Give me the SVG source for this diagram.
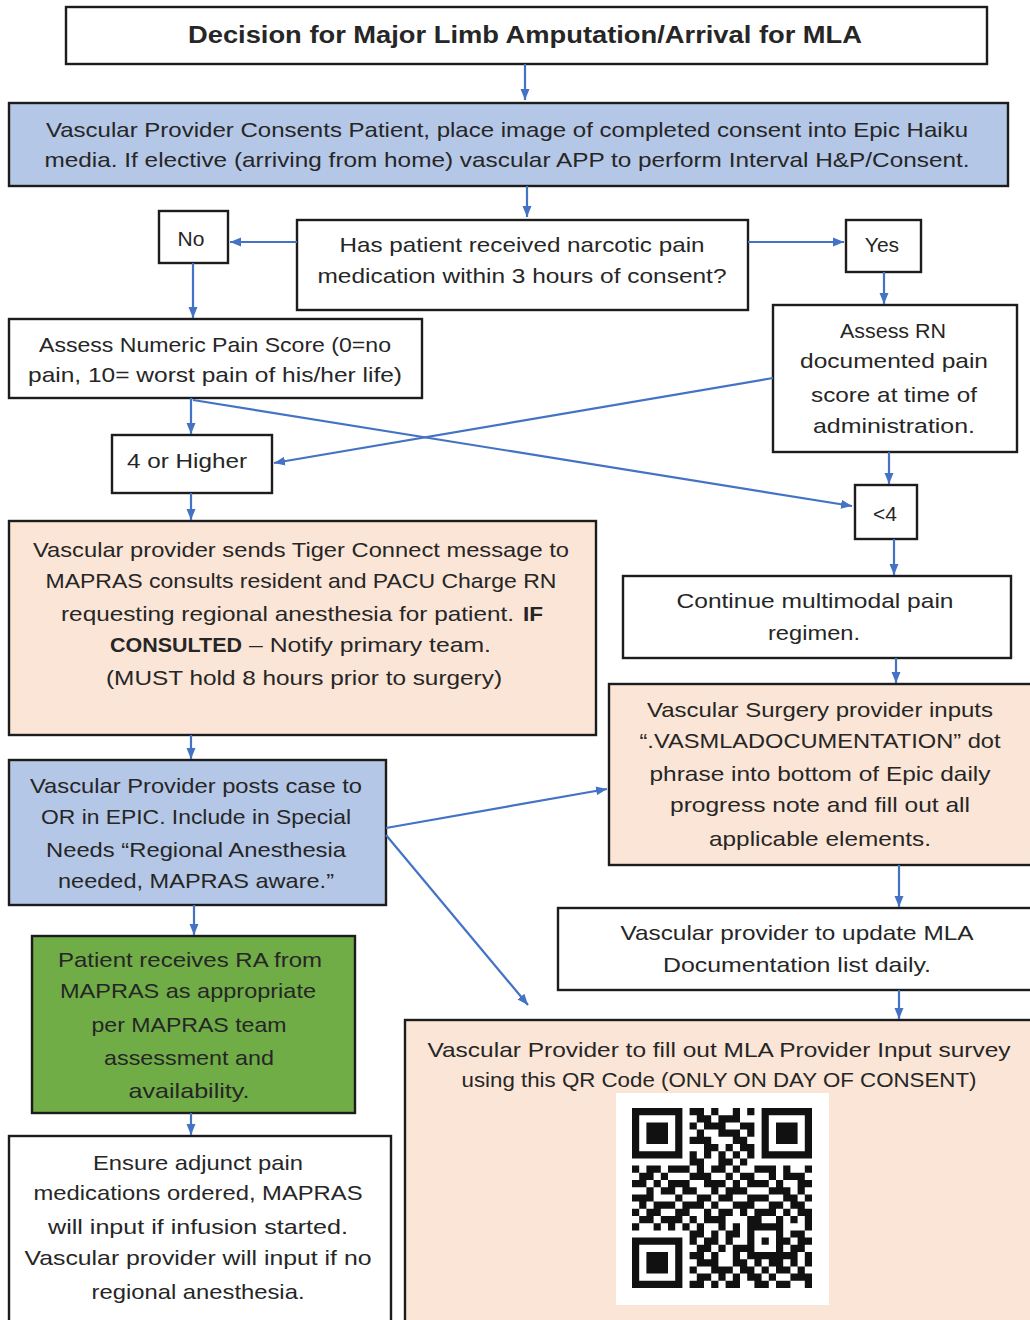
<svg xmlns="http://www.w3.org/2000/svg" width="1030" height="1320" viewBox="0 0 1030 1320">
<defs>
<marker id="ah" markerUnits="userSpaceOnUse" markerWidth="12" markerHeight="12" viewBox="0 0 12 12" refX="11" refY="6" orient="auto">
<path d="M0 1.5L11 6L0 10.5z" fill="#4472c4"/>
</marker>
<style>
.box{stroke:#1c1c1c;stroke-width:2.4}
.w{fill:#ffffff}
.b{fill:#b4c7e7}
.p{fill:#fbe5d6}
.g{fill:#70ad47}
.t{font-family:"Liberation Sans",Arial,sans-serif;font-size:21px;fill:#262626;text-anchor:middle}
.s{text-anchor:start}
.bd{font-weight:bold}
.c path{fill:none;stroke:#4472c4;stroke-width:2.2;marker-end:url(#ah)}
</style>
</defs>
<rect width="1030" height="1320" fill="#ffffff"/>

<g id="n-title">
<rect class="box w" x="66" y="7" width="921" height="57"/>
<text class="t bd" x="525" y="43" style="font-size:23px" textLength="674" lengthAdjust="spacingAndGlyphs">Decision for Major Limb Amputation/Arrival for MLA</text>
</g>

<g id="n-consent">
<rect class="box b" x="9" y="103" width="999" height="83"/>
<text class="t" x="507" y="137" textLength="922" lengthAdjust="spacingAndGlyphs">Vascular Provider Consents Patient, place image of completed consent into Epic Haiku</text>
<text class="t" x="507" y="167" textLength="925" lengthAdjust="spacingAndGlyphs">media. If elective (arriving from home) vascular APP to perform Interval H&amp;P/Consent.</text>
</g>

<g id="n-question">
<rect class="box w" x="297" y="220" width="451" height="90"/>
<text class="t" x="522" y="252" textLength="365" lengthAdjust="spacingAndGlyphs">Has patient received narcotic pain</text>
<text class="t" x="522" y="283" textLength="409" lengthAdjust="spacingAndGlyphs">medication within 3 hours of consent?</text>
</g>

<g id="n-no">
<rect class="box w" x="159" y="211" width="69" height="52"/>
<text class="t" x="191" y="246">No</text>
</g>

<g id="n-yes">
<rect class="box w" x="846" y="220" width="75" height="52"/>
<text class="t" x="882" y="252">Yes</text>
</g>

<g id="n-numeric">
<rect class="box w" x="9" y="319" width="413" height="79"/>
<text class="t" x="215" y="352" textLength="352" lengthAdjust="spacingAndGlyphs">Assess Numeric Pain Score (0=no</text>
<text class="t" x="215" y="382" textLength="374" lengthAdjust="spacingAndGlyphs">pain, 10= worst pain of his/her life)</text>
</g>

<g id="n-rn">
<rect class="box w" x="773" y="305" width="244" height="147"/>
<text class="t" x="893" y="338" textLength="106" lengthAdjust="spacingAndGlyphs">Assess RN</text>
<text class="t" x="894" y="368" textLength="188" lengthAdjust="spacingAndGlyphs">documented pain</text>
<text class="t" x="894" y="402" textLength="166" lengthAdjust="spacingAndGlyphs">score at time of</text>
<text class="t" x="894" y="433" textLength="162" lengthAdjust="spacingAndGlyphs">administration.</text>
</g>

<g id="n-high">
<rect class="box w" x="112" y="435" width="160" height="58"/>
<text class="t" x="187" y="468" textLength="120" lengthAdjust="spacingAndGlyphs">4 or Higher</text>
</g>

<g id="n-low">
<rect class="box w" x="855" y="485" width="62" height="54"/>
<text class="t" x="885" y="521">&lt;4</text>
</g>

<g id="n-tiger">
<rect class="box p" x="9" y="521" width="587" height="214"/>
<text class="t" x="301" y="557" textLength="536" lengthAdjust="spacingAndGlyphs">Vascular provider sends Tiger Connect message to</text>
<text class="t" x="301" y="588" textLength="511" lengthAdjust="spacingAndGlyphs">MAPRAS consults resident and PACU Charge RN</text>
<text class="t s" x="61" y="621" textLength="453" lengthAdjust="spacingAndGlyphs">requesting regional anesthesia for patient.</text>
<text class="t s bd" x="523" y="621" textLength="20" lengthAdjust="spacingAndGlyphs">IF</text>
<text class="t s bd" x="110" y="652" textLength="132" lengthAdjust="spacingAndGlyphs">CONSULTED</text>
<text class="t s" x="249" y="652" textLength="242" lengthAdjust="spacingAndGlyphs">– Notify primary team.</text>
<text class="t" x="304" y="685" textLength="396" lengthAdjust="spacingAndGlyphs">(MUST hold 8 hours prior to surgery)</text>
</g>

<g id="n-continue">
<rect class="box w" x="623" y="576" width="388" height="82"/>
<text class="t" x="815" y="608" textLength="277" lengthAdjust="spacingAndGlyphs">Continue multimodal pain</text>
<text class="t" x="814" y="640" textLength="92" lengthAdjust="spacingAndGlyphs">regimen.</text>
</g>

<g id="n-dotphrase">
<rect class="box p" x="609" y="684" width="440" height="181"/>
<text class="t" x="820" y="717" textLength="346" lengthAdjust="spacingAndGlyphs">Vascular Surgery provider inputs</text>
<text class="t" x="820" y="748" textLength="361" lengthAdjust="spacingAndGlyphs">“.VASMLADOCUMENTATION” dot</text>
<text class="t" x="820" y="781" textLength="341" lengthAdjust="spacingAndGlyphs">phrase into bottom of Epic daily</text>
<text class="t" x="820" y="812" textLength="300" lengthAdjust="spacingAndGlyphs">progress note and fill out all</text>
<text class="t" x="820" y="846" textLength="222" lengthAdjust="spacingAndGlyphs">applicable elements.</text>
</g>

<g id="n-posts">
<rect class="box b" x="9" y="760" width="377" height="145"/>
<text class="t" x="196" y="793" textLength="332" lengthAdjust="spacingAndGlyphs">Vascular Provider posts case to</text>
<text class="t" x="196" y="824" textLength="310" lengthAdjust="spacingAndGlyphs">OR in EPIC. Include in Special</text>
<text class="t" x="196" y="857" textLength="300" lengthAdjust="spacingAndGlyphs">Needs “Regional Anesthesia</text>
<text class="t" x="196" y="888" textLength="276" lengthAdjust="spacingAndGlyphs">needed, MAPRAS aware.”</text>
</g>

<g id="n-update">
<rect class="box w" x="558" y="908" width="480" height="82"/>
<text class="t" x="797" y="940" textLength="353" lengthAdjust="spacingAndGlyphs">Vascular provider to update MLA</text>
<text class="t" x="797" y="972" textLength="268" lengthAdjust="spacingAndGlyphs">Documentation list daily.</text>
</g>

<g id="n-ra">
<rect class="box g" x="32" y="936" width="323" height="177"/>
<text class="t" x="190" y="967" textLength="264" lengthAdjust="spacingAndGlyphs">Patient receives RA from</text>
<text class="t" x="188" y="998" textLength="256" lengthAdjust="spacingAndGlyphs">MAPRAS as appropriate</text>
<text class="t" x="189" y="1032" textLength="195" lengthAdjust="spacingAndGlyphs">per MAPRAS team</text>
<text class="t" x="189" y="1065" textLength="170" lengthAdjust="spacingAndGlyphs">assessment and</text>
<text class="t" x="189" y="1098" textLength="121" lengthAdjust="spacingAndGlyphs">availability.</text>
</g>

<g id="n-ensure">
<rect class="box w" x="9" y="1136" width="382" height="192"/>
<text class="t" x="198" y="1170" textLength="210" lengthAdjust="spacingAndGlyphs">Ensure adjunct pain</text>
<text class="t" x="198" y="1200" textLength="329" lengthAdjust="spacingAndGlyphs">medications ordered, MAPRAS</text>
<text class="t" x="198" y="1234" textLength="300" lengthAdjust="spacingAndGlyphs">will input if infusion started.</text>
<text class="t" x="198" y="1265" textLength="347" lengthAdjust="spacingAndGlyphs">Vascular provider will input if no</text>
<text class="t" x="198" y="1299" textLength="213" lengthAdjust="spacingAndGlyphs">regional anesthesia.</text>
</g>

<g id="n-survey">
<rect class="box p" x="405" y="1020" width="640" height="320"/>
<text class="t" x="719" y="1057" textLength="583" lengthAdjust="spacingAndGlyphs">Vascular Provider to fill out MLA Provider Input survey</text>
<text class="t" x="719" y="1087" textLength="515" lengthAdjust="spacingAndGlyphs">using this QR Code (ONLY ON DAY OF CONSENT)</text>
<rect x="616" y="1093" width="213" height="212" fill="#ffffff"/>
<g transform="translate(632 1108) scale(7.2)" fill="#111111">
<path d="M0 0h7v7h-7z M1 1v5h5v-5z M2 2h3v3h-3z" fill-rule="evenodd"/>
<path d="M18 0h7v7h-7z M19 1v5h5v-5z M20 2h3v3h-3z" fill-rule="evenodd"/>
<path d="M0 18h7v7h-7z M1 19v5h5v-5z M2 20h3v3h-3z" fill-rule="evenodd"/>
<path d="M8 0h2v1h-2z M11 0h1v1h-1z M14 0h1v1h-1z M16 0h1v1h-1z
M9 1h2v1h-2z M12 1h3v1h-3z
M8 2h1v1h-1z M10 2h3v1h-3z M15 2h2v1h-2z
M9 3h1v1h-1z M12 3h3v1h-3z M16 3h1v1h-1z
M8 4h3v1h-3z M14 4h2v1h-2z
M10 5h2v1h-2z M13 5h1v1h-1z M15 5h2v1h-2z
M8 6h1v1h-1z M10 6h1v1h-1z M12 6h1v1h-1z M14 6h1v1h-1z M16 6h1v1h-1z
M8 7h2v1h-2z M12 7h2v1h-2z M15 7h1v1h-1z
M0 8h1v1h-1z M2 8h2v1h-2z M5 8h3v1h-3z M9 8h1v1h-1z M11 8h2v1h-2z M14 8h1v1h-1z M17 8h3v1h-3z M21 8h1v1h-1z M24 8h1v1h-1z
M1 9h2v1h-2z M4 9h1v1h-1z M8 9h3v1h-3z M13 9h1v1h-1z M15 9h2v1h-2z M19 9h1v1h-1z M21 9h3v1h-3z
M0 10h2v1h-2z M3 10h1v1h-1z M5 10h3v1h-3z M10 10h3v1h-3z M14 10h1v1h-1z M16 10h3v1h-3z M20 10h1v1h-1z M23 10h2v1h-2z
M2 11h1v1h-1z M4 11h2v1h-2z M7 11h2v1h-2z M11 11h1v1h-1z M13 11h3v1h-3z M19 11h3v1h-3z M23 11h1v1h-1z
M0 12h3v1h-3z M6 12h1v1h-1z M9 12h2v1h-2z M12 12h2v1h-2z M16 12h3v1h-3z M21 12h2v1h-2z M24 12h1v1h-1z
M1 13h1v1h-1z M3 13h3v1h-3z M7 13h3v1h-3z M11 13h1v1h-1z M14 13h3v1h-3z M19 13h2v1h-2z M22 13h2v1h-2z
M0 14h1v1h-1z M2 14h2v1h-2z M6 14h2v1h-2z M10 14h1v1h-1z M12 14h2v1h-2z M15 14h1v1h-1z M17 14h3v1h-3z M21 14h1v1h-1z M23 14h2v1h-2z
M1 15h2v1h-2z M4 15h3v1h-3z M8 15h1v1h-1z M10 15h3v1h-3z M16 15h2v1h-2z M20 15h1v1h-1z M22 15h1v1h-1z M24 15h1v1h-1z
M0 16h1v1h-1z M3 16h1v1h-1z M5 16h1v1h-1z M7 16h1v1h-1z M9 16h1v1h-1z M12 16h1v1h-1z M14 16h1v1h-1z M16 16h5v1h-5z M24 16h1v1h-1z
M8 17h2v1h-2z M11 17h1v1h-1z M13 17h2v1h-2z M16 17h1v1h-1z M20 17h1v1h-1z M22 17h2v1h-2z
M8 18h1v1h-1z M10 18h2v1h-2z M13 18h1v1h-1z M16 18h1v1h-1z M18 18h1v1h-1z M20 18h2v1h-2z M23 18h2v1h-2z
M9 19h2v1h-2z M12 19h1v1h-1z M14 19h3v1h-3z M20 19h1v1h-1z M22 19h2v1h-2z
M8 20h2v1h-2z M11 20h1v1h-1z M14 20h1v1h-1z M16 20h7v1h-7z M24 20h1v1h-1z
M9 21h3v1h-3z M14 21h2v1h-2z M17 21h1v1h-1z M19 21h2v1h-2z M22 21h1v1h-1z M24 21h1v1h-1z
M8 22h1v1h-1z M11 22h3v1h-3z M15 22h2v1h-2z M18 22h1v1h-1z M20 22h2v1h-2z M23 22h1v1h-1z
M9 23h2v1h-2z M12 23h1v1h-1z M14 23h1v1h-1z M16 23h2v1h-2z M19 23h1v1h-1z M22 23h3v1h-3z
M8 24h2v1h-2z M11 24h1v1h-1z M13 24h2v1h-2z M17 24h2v1h-2z M20 24h2v1h-2z M24 24h1v1h-1z"/>
</g>
</g>

<g id="connectors" class="c">
<path d="M525 64V100"/>
<path d="M527 186V217"/>
<path d="M297 242H230"/>
<path d="M748 242H844"/>
<path d="M193 263V318"/>
<path d="M884 272V304"/>
<path d="M191 398V434"/>
<path d="M193 400L852 506"/>
<path d="M773 378L274 463"/>
<path d="M889 452V484"/>
<path d="M191 493V520"/>
<path d="M894 539V575"/>
<path d="M896 658V683"/>
<path d="M191 735V759"/>
<path d="M386 828L607 789"/>
<path d="M386 835L528 1005"/>
<path d="M194 905V935"/>
<path d="M899 865V907"/>
<path d="M899 990V1019"/>
<path d="M191 1113V1135"/>
</g>
</svg>
